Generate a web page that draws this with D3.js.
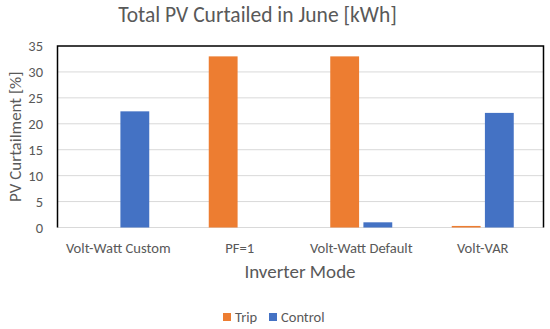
<!DOCTYPE html>
<html>
<head>
<meta charset="utf-8">
<script src="https://cdn.jsdelivr.net/npm/d3@7"></script>
<style>
  body { margin: 0; background: #fff; }
  text { font-family: Carlito, Calibri, Lato, sans-serif; fill: #595959; }
</style>
</head>
<body>
<script>
var modes = ['Volt-Watt Custom', 'PF=1', 'Volt-Watt Default', 'Volt-VAR'];
var series = ['Trip', 'Control'];
var tripValues = [0, 33.0, 33.0, 0.3];
var controlValues = [22.4, 0, 1.0, 22.1];
var yTicks = [0, 5, 10, 15, 20, 25, 30, 35];
var colors = ['#ed7d31', '#4472c4'];

var width = 550, height = 329;
var margin = {top: 46, right: 6.5, bottom: 101.5, left: 57.5};

var svg = d3.select('body').append('svg')
    .attr('width', width)
    .attr('height', height);

var x = d3.scaleBand()
    .domain(modes)
    .range([margin.left, width - margin.right]);

var xInner = d3.scaleBand()
    .domain(series)
    .range([0, 62])
    .paddingInner(0.13);

var y = d3.scaleLinear()
    .domain([0, 35])
    .range([height - margin.bottom, margin.top]);

// gridlines
svg.append('g')
    .selectAll('line')
    .data(yTicks.slice(0, -1)).enter()
    .append('line')
    .attr('x1', margin.left)
    .attr('x2', width - margin.right)
    .attr('y1', d => y(d))
    .attr('y2', d => y(d))
    .attr('stroke', '#d9d9d9')
    .attr('stroke-width', 1);

// bars
var rows = modes.map((m, i) => ({mode: m, vals: [tripValues[i], controlValues[i]]}));

svg.append('g')
    .selectAll('g')
    .data(rows).enter()
    .append('g')
    .attr('transform', d => 'translate(' + (x(d.mode) + x.bandwidth() / 2 - 31) + ',0)')
    .selectAll('rect')
    .data(d => d.vals.map((v, j) => ({key: series[j], value: v, j: j})))
    .enter()
    .append('rect')
    .attr('x', d => xInner(d.key))
    .attr('width', xInner.bandwidth())
    .attr('y', d => y(d.value))
    .attr('height', d => y(0) - y(d.value))
    .attr('fill', d => colors[d.j]);

// frame (left, top, right)
svg.append('path')
    .attr('d', 'M' + margin.left + ',' + y(0) + 'V' + margin.top + 'H' + (width - margin.right) + 'V' + y(0))
    .attr('fill', 'none')
    .attr('stroke', '#000')
    .attr('stroke-width', 1.5);

// y axis
var yAxis = svg.append('g')
    .attr('transform', 'translate(' + margin.left + ',0)')
    .call(d3.axisLeft(y).tickValues(yTicks).tickSize(0).tickPadding(14.5));
yAxis.select('.domain').remove();
yAxis.selectAll('text').style('font-size', '14.5px').attr('fill', '#595959');

// x axis
var xAxis = svg.append('g')
    .attr('transform', 'translate(0,' + y(0) + ')')
    .call(d3.axisBottom(x).tickSize(0).tickPadding(15));
xAxis.select('.domain').remove();
xAxis.selectAll('text').style('font-size', '14.6px').attr('fill', '#595959');

// titles
svg.append('text')
    .attr('x', 257.5)
    .attr('y', 22)
    .attr('text-anchor', 'middle')
    .style('font-size', '21.5px')
    .text('Total PV Curtailed in June [kWh]');

svg.append('text')
    .attr('x', 300)
    .attr('y', 278)
    .attr('text-anchor', 'middle')
    .style('font-size', '19px')
    .text('Inverter Mode');

svg.append('text')
    .attr('transform', 'translate(21,' + ((margin.top + y(0)) / 2 - 0) + ') rotate(-90)')
    .attr('text-anchor', 'middle')
    .style('font-size', '17px')
    .text('PV Curtailment [%]');

// legend
var legend = svg.append('g')
    .attr('transform', 'translate(223,321)');

var item = legend.selectAll('g')
    .data(series).enter()
    .append('g')
    .attr('transform', (d, i) => 'translate(' + (i * 46) + ',0)');

item.append('rect')
    .attr('x', 0)
    .attr('y', -8)
    .attr('width', 8)
    .attr('height', 8)
    .attr('fill', (d, i) => colors[i]);

item.append('text')
    .attr('x', 12)
    .attr('y', 0.5)
    .style('font-size', '14.5px')
    .text(d => d);
</script>
</body>
</html>
